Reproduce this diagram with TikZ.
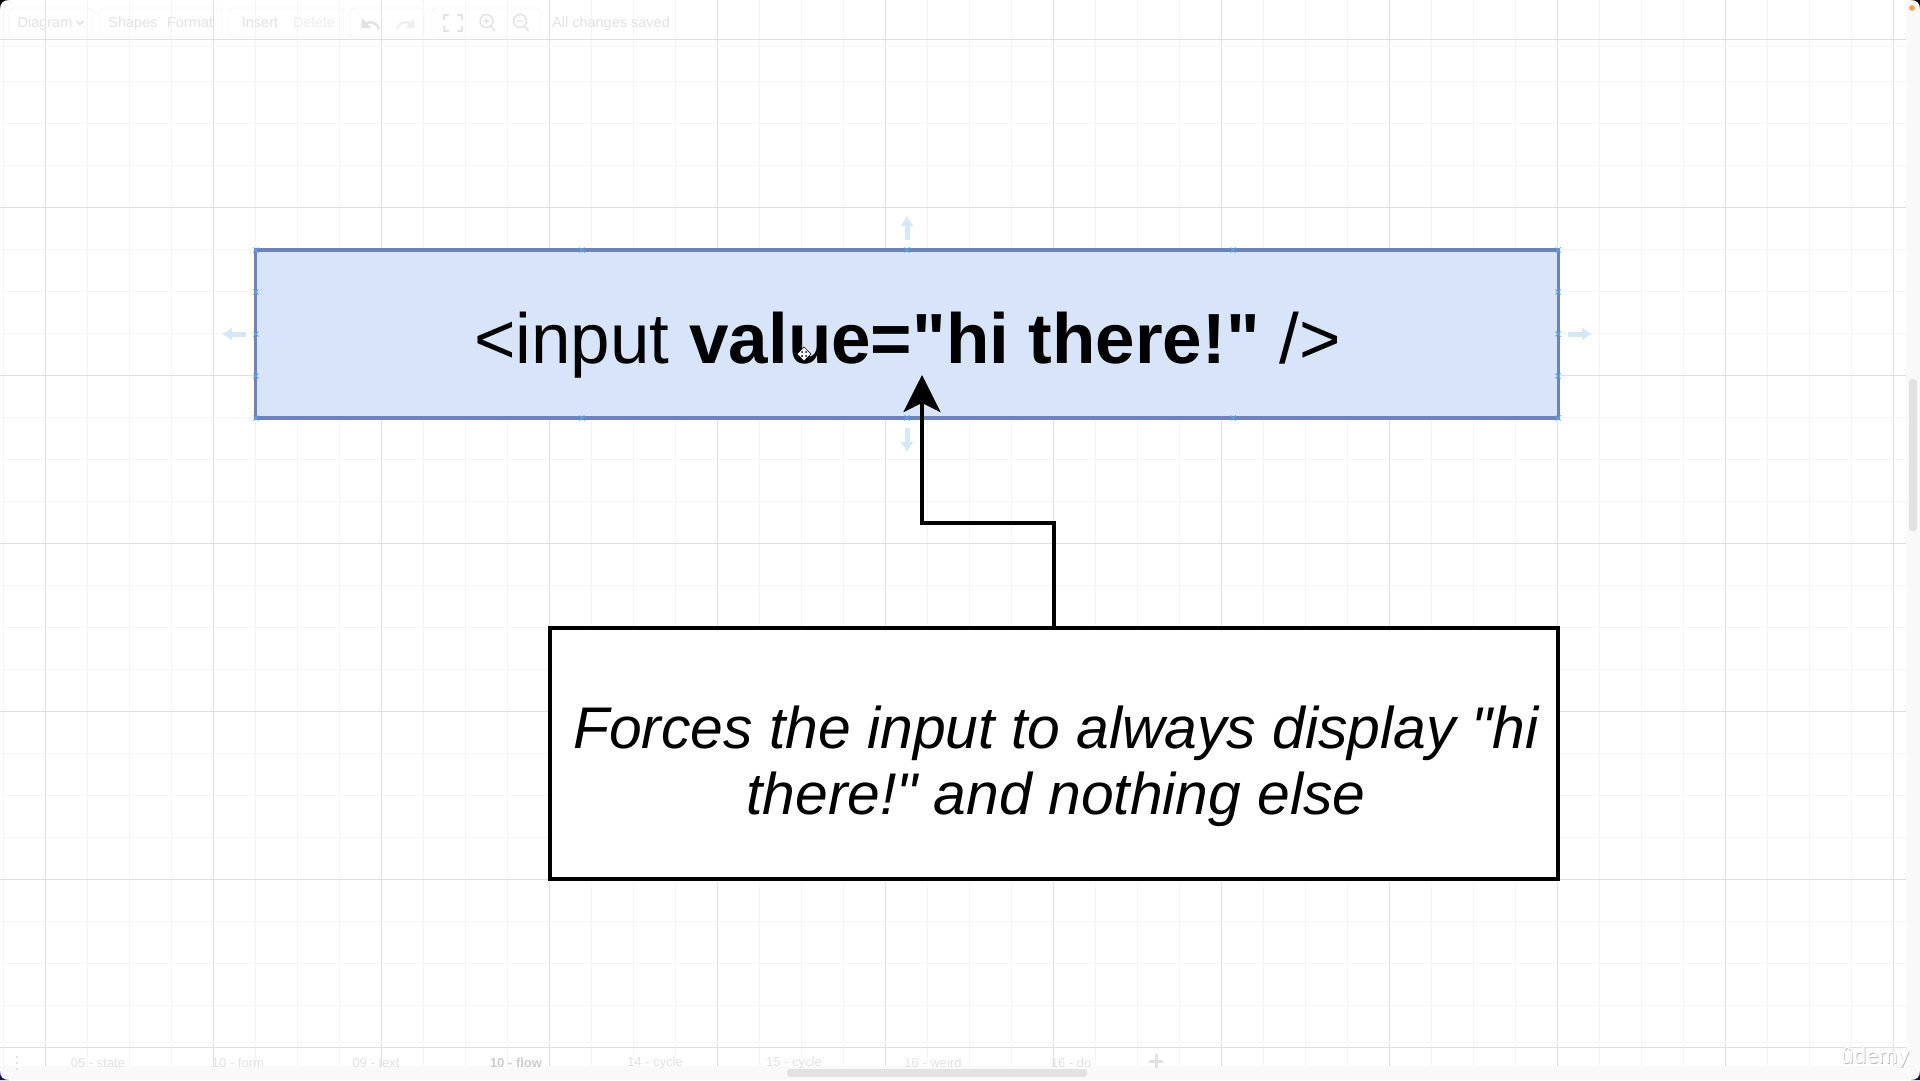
\documentclass[tikz,border=0pt]{standalone}
\usepackage{fontspec}
\setmainfont{Liberation Sans}[Ligatures=TeXOff]
\newfontfamily\logofont{Lato}
\usetikzlibrary{arrows.meta}
\definecolor{gridmajor}{HTML}{E0E0E0}
\definecolor{gridminor}{HTML}{F5F5F5}
\definecolor{boxfill}{HTML}{D7E4FA}
\definecolor{boxline}{HTML}{6C84B8}
\definecolor{faintblue}{HTML}{D6E8F6}
\definecolor{handleblue}{HTML}{58A6E0}
\definecolor{uitext}{HTML}{E2E2E2}
\definecolor{uiedge}{HTML}{F5F5F5}
\definecolor{panelgray}{HTML}{F9F9F9}
\definecolor{thumbgray}{HTML}{E2E2E2}
\definecolor{cornerdark}{HTML}{1B0F4A}
\tikzset{
	inputbox/.style={draw=boxline,fill=boxfill,line width=3.6pt,minimum width=1303pt,minimum height=168pt,inner sep=0pt},
	notebox/.style={draw=black,fill=white,line width=3.4pt,minimum width=1008pt,minimum height=251pt,inner sep=0pt},
	bigtext/.style={font=\fontsize{71}{66}\selectfont,inner sep=0pt},
	notetext/.style={font=\fontsize{58.8}{66}\selectfont,inner sep=0pt},
	pointer/.style={draw=black,line width=3.4pt},
	uilabel/.style={text=uitext,font=\fontsize{14.5}{16}\selectfont,inner sep=0pt},
	tablabel/.style={text=uitext,font=\fontsize{13}{15}\selectfont,inner sep=0pt},
	uigroup/.style={draw=uiedge,line width=.8pt,rounded corners=4pt},
	uiicon/.style={draw=uitext,line width=1.4pt},
	nudge/.style={-{Latex[length=10pt,width=14pt]},draw=faintblue,line width=5pt}
}
\begin{document}
\begin{tikzpicture}[x=1pt,y=-1pt]
	\useasboundingbox (0,0) rectangle (1920,1080);
	\fill[white] (0,0) rectangle (1920,1080);
	%print the grid
	\foreach \k in {0,...,45} \draw[gridminor,line width=.7pt] ({45.5+42*(\k-1)},0)--({45.5+42*(\k-1)},1066);
	\foreach \k in {0,...,25} \draw[gridminor,line width=.7pt] (0,{39.4+42*\k})--(1906,{39.4+42*\k});
	\foreach \k in {0,...,11} \draw[gridmajor,line width=.7pt] ({45.5+168*\k},0)--({45.5+168*\k},1066);
	\foreach \k in {0,...,6} \draw[gridmajor,line width=.7pt] (0,{39.4+168*\k})--(1906,{39.4+168*\k});
	\draw[uiedge,line width=.8pt] (0,46)--(1906,46);
	\draw[uiedge,line width=.8pt] (0,1042.7)--(1906,1042.7);
	%panels and scrollbars
	\fill[panelgray] (1906,0) rectangle (1920,1080);
	\fill[panelgray] (0,1066) rectangle (1920,1080);
	\fill[thumbgray,rounded corners=3pt] (1909,379) rectangle (1917,531);
	\fill[thumbgray,rounded corners=3pt] (787,1069) rectangle (1087,1077);
	\fill[orange!70!white] (1912,8) circle (3pt);
	%toolbar
	\foreach \a/\b in {9/92,99/222,229/343,350/424,432/541} \draw[uigroup] (\a,8) rectangle (\b,37);
	\node[uilabel,anchor=base] (diagram) at (45,27) {Diagram};
	\node[uilabel,anchor=base] (shapes) at (133,27) {Shapes};
	\node[uilabel,anchor=base] (format) at (190,27) {Format};
	\node[uilabel,anchor=base] (insert) at (260,27) {Insert};
	\node[uilabel,anchor=base,opacity=.6] (delete) at (314,27) {Delete};
	\node[uilabel,anchor=base] (saved) at (611,27) {All changes saved};
	\draw[uiicon] (76.5,20.5)--(80,24.5)--(83.5,20.5);
	%undo and redo
	\draw[uiicon,line width=2.4pt] (379,29) .. controls (377,23) and (372,21) .. (366,23);
	\fill[uitext] (362,18) -- (371,28) -- (361,28) -- cycle;
	\draw[opacity=.5,uiicon,line width=2.4pt] (397,29) .. controls (399,23) and (404,21) .. (410,23);
	\fill[uitext,opacity=.5] (414,18) -- (405,28) -- (415,28) -- cycle;
	%fit and zoom icons
	\draw[uiicon] (444,20)--(444,15)--(449,15) (457,15)--(462,15)--(462,20) (462,26)--(462,31)--(457,31) (449,31)--(444,31)--(444,26);
	\draw[uiicon] (486.5,21) circle (6.5pt) (491,26)--(495,31) (483.5,21)--(489.5,21) (486.5,18)--(486.5,24);
	\draw[uiicon] (520,21) circle (6.5pt) (524.5,26)--(528.5,31) (517,21)--(523,21);
	%bottom tabs
	\foreach \px/\py in {17/1057,17/1063,17/1069} \fill[uitext] (\px,\py) circle (1.4pt);
	\node[tablabel] (taba) at (98,1063) {05 - state};
	\node[tablabel] (tabb) at (238,1063) {10 - form};
	\node[tablabel] (tabc) at (376,1063) {09 - text};
	\node[tablabel,text=gray!40,font=\fontsize{13}{15}\selectfont\bfseries] (tabd) at (516,1063) {10 - flow};
	\node[tablabel] (tabe) at (655,1063) {14 - cycle};
	\node[tablabel] (tabf) at (794,1063) {15 - cycle};
	\node[tablabel] (tabg) at (933,1063) {16 - weird};
	\node[tablabel] (tabh) at (1071,1063) {16 - do};
	\draw[uitext,line width=3pt] (1149,1061)--(1163,1061) (1156,1054)--(1156,1068);
	%the two boxes
	\node[inputbox] (input) at (907,334) {};
	\node[notebox] (note) at (1054,753.5) {};
	\node[bigtext,anchor=base] (inputtext) at (907.5,363) {<input \textbf{value="hi there!"} />};
	\node[notetext,anchor=center,align=center] (notetext) at (1056,766) {\itshape Forces the input to always display "hi\\\itshape there!" and nothing else};
	%connection handles
	\foreach \hx/\hy in {256/250,582/250,907/250,1233/250,1558/250,256/418,582/418,907/418,1233/418,1558/418,256/292,256/334,256/376,1558/292,1558/334,1558/376}
		\draw[handleblue,line width=.8pt] (\hx-2.5,\hy-2.5)--(\hx+2.5,\hy+2.5) (\hx-2.5,\hy+2.5)--(\hx+2.5,\hy-2.5);
	%faint direction arrows
	\coordinate (upa) at (907,240);
	\coordinate (upb) at (907,216);
	\coordinate (downa) at (907,428);
	\coordinate (downb) at (907,452);
	\coordinate (lefta) at (246,334);
	\coordinate (leftb) at (222,334);
	\coordinate (righta) at (1568,334);
	\coordinate (rightb) at (1592,334);
	\draw[nudge] (upa)--(upb);
	\draw[nudge] (downa)--(downb);
	\draw[nudge] (lefta)--(leftb);
	\draw[nudge] (righta)--(rightb);
	%arrow from the note up to the input
	\coordinate (bend) at (922,523);
	\coordinate (tip) at (922,375);
	\draw[pointer,-{Stealth[length=37pt,width=37pt,inset=9pt]}] (note.north) |- (bend)--(tip);
	%move cursor
	\draw[black,fill=white,line width=.6pt] (804,347)--(811,354)--(804,361)--(797,354)--cycle;
	\foreach \cx/\cy in {802/352,806/352,802/356,806/356} \fill[black] (\cx,\cy) circle (1pt);
	%logo
	\node[text=gray!55,font=\logofont\fontsize{23}{25}\selectfont,inner sep=0pt] (logoshade) at (1875.7,1057.7) {ûdemy};
	\node[text=white,font=\logofont\fontsize{23}{25}\selectfont,inner sep=0pt] (logo) at (1875,1057) {ûdemy};
	%window corners
	\fill[black] (0,0)--(9,0) .. controls (3,0) and (0,3) .. (0,9) -- cycle;
	\fill[black] (1920,0)--(1911,0) .. controls (1917,0) and (1920,3) .. (1920,9) -- cycle;
	\fill[cornerdark] (0,1080)--(9,1080) .. controls (3,1080) and (0,1077) .. (0,1071) -- cycle;
	\fill[cornerdark] (1920,1080)--(1911,1080) .. controls (1917,1080) and (1920,1077) .. (1920,1071) -- cycle;
\end{tikzpicture}
\end{document}
